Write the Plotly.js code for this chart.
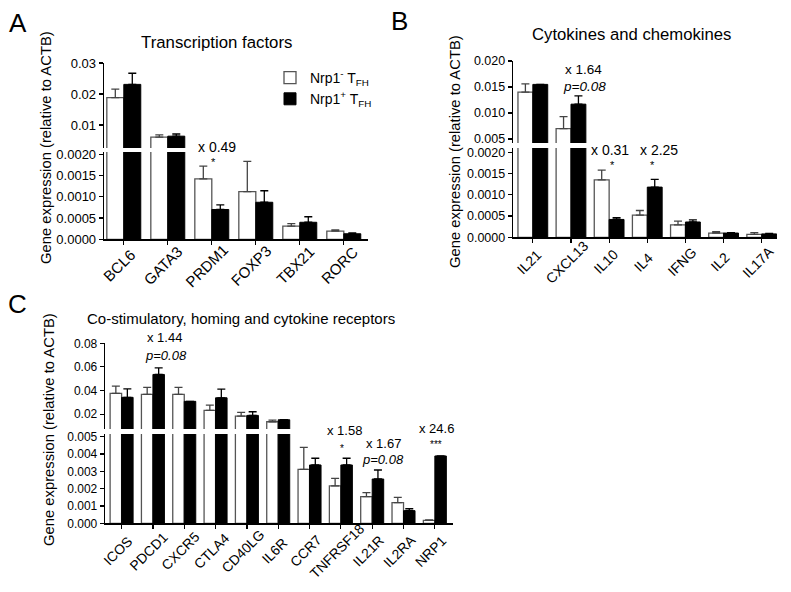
<!DOCTYPE html>
<html>
<head>
<meta charset="utf-8">
<script src="https://cdn.plot.ly/plotly-3.0.1.min.js"></script>
<style>html,body{margin:0;padding:0;background:#fff;}#chart{width:791px;height:592px;}</style>
</head>
<body>
<div id="chart"></div>
<script>
// ---------- DATA ----------
const catsA = ['BCL6','GATA3','PRDM1','FOXP3','TBX21','RORC'];
const negA = [0.0188, 0.0061, 0.00142, 0.00112, 0.00031, 0.00019];
const negSemA = [0.0028, 0.0007, 0.0003, 0.00071, 0.00006, 0.00003];
const posA = [0.0231, 0.0064, 0.0007, 0.00087, 0.0004, 0.00013];
const posSemA = [0.0036, 0.0007, 0.00011, 0.00027, 0.00013, 0.00002];

const catsB = ['IL21','CXCL13','IL10','IL4','IFNG','IL2','IL17A'];
const negB = [0.0140, 0.0070, 0.00135, 0.00052, 0.00029, 0.0001, 0.00007];
const negSemB = [0.0016, 0.0023, 0.00023, 0.00011, 0.00009, 0.00003, 0.00004];
const posB = [0.0155, 0.0117, 0.00042, 0.00118, 0.00036, 0.0001, 0.00008];
const posSemB = [0, 0.0016, 0.00004, 0.00018, 0.00005, 0.00001, 0.00001];

const catsC = ['ICOS','PDCD1','CXCR5','CTLA4','CD40LG','IL6R','CCR7','TNFRSF18','IL21R','IL2RA','NRP1'];
const negC = [0.0375, 0.0367, 0.0367, 0.0231, 0.0183, 0.0135, 0.00312, 0.00216, 0.00154, 0.00119, 0.00017];
const negSemC = [0.0062, 0.0059, 0.0059, 0.0045, 0.0031, 0.0014, 0.00127, 0.00044, 0.00023, 0.00031, 0.00003];
const posC = [0.0342, 0.0536, 0.0308, 0.0338, 0.0189, 0.0152, 0.00337, 0.00337, 0.00256, 0.00073, 0.00389];
const posSemC = [0.0072, 0.0056, 0, 0.0074, 0.0031, 0, 0.00039, 0.00039, 0.00052, 0.00011, 0];

const seriesNames = ['Nrp1<sup>-</sup> T<sub>FH</sub>', 'Nrp1<sup>+</sup> T<sub>FH</sub>'];
const yTitle = 'Gene expression (relative to ACTB)';
const panelTitles = ['Transcription factors', 'Cytokines and chemokines', 'Co-stimulatory, homing and cytokine receptors'];
const panelLetters = ['A', 'B', 'C'];

// ---------- HELPERS ----------
const W = 791, H = 592;
const fx = px => px / W;
const fy = py => 1 - py / H;
const FONT = 'Arial, "Liberation Sans", sans-serif';

function pair(cats, neg, negSem, pos, posSem, xa, ya, w, showLegend) {
  const zeros = cats.map(() => 0);
  return [
    {type:'bar', x:cats, y:neg, xaxis:xa, yaxis:ya, width:w, offset:-w,
     name:seriesNames[0], showlegend:showLegend, hoverinfo:'skip', legendgroup:'neg',
     marker:{color:'#ffffff', line:{color:'#555555', width:1.3}},
     error_y:{type:'data', symmetric:false, array:negSem, arrayminus:zeros, color:'#444444', thickness:1.3, width:4}},
    {type:'bar', x:cats, y:pos, xaxis:xa, yaxis:ya, width:w, offset:0,
     name:seriesNames[1], showlegend:showLegend, hoverinfo:'skip', legendgroup:'pos',
     marker:{color:'#000000', line:{color:'#000000', width:1}},
     error_y:{type:'data', symmetric:false, array:posSem, arrayminus:zeros, color:'#000000', thickness:1.3, width:4}}
  ];
}

const traces = [].concat(
  pair(catsA, negA, negSemA, posA, posSemA, 'x', 'y', 0.386, false),
  pair(catsA, negA, negSemA, posA, posSemA, 'x', 'y2', 0.386, true),
  pair(catsB, negB, negSemB, posB, posSemB, 'x2', 'y3', 0.39, false),
  pair(catsB, negB, negSemB, posB, posSemB, 'x2', 'y4', 0.39, false),
  pair(catsC, negC, negSemC, posC, posSemC, 'x3', 'y5', 0.367, false),
  pair(catsC, negC, negSemC, posC, posSemC, 'x3', 'y6', 0.367, false)
);

const axBase = {showline:true, linecolor:'#000', linewidth:1.3, ticks:'outside', ticklen:4, tickwidth:1.2,
  tickcolor:'#000', showgrid:false, zeroline:false, fixedrange:true};
function xAx(d0, d1, r0, r1, anchor) {
  return Object.assign({}, axBase, {domain:[fx(d0), fx(d1)], range:[r0, r1], anchor:anchor, type:'category',
    showticklabels:false});
}
function yAx(top, bot, r0, r1, anchor, tickvals, fmt, fs) {
  return Object.assign({}, axBase, {domain:[fy(bot), fy(top)], range:[r0, r1], anchor:anchor,
    tickvals:tickvals, tickformat:fmt, tickfont:{size:fs, family:FONT, color:'#000'}});
}

function ann(text, x, y, opts) {
  return Object.assign({text:text, x:x, y:y, xref:'paper', yref:'paper', showarrow:false,
    xanchor:'center', yanchor:'middle', font:{family:FONT, size:13, color:'#000'}}, opts || {});
}
function dataAnn(text, xref, cat, py, fs, xshift) {
  return {text:text, x:cat, y:fy(py), xref:xref, yref:'paper', showarrow:false, xanchor:'center', yanchor:'middle',
    xshift:xshift || 0, font:{family:FONT, size:fs, color:'#000'}};
}
// category labels, rotated 45 degrees and centred below each tick (GraphPad style)
function catLabels(cats, xref, centerY, fs, dx) {
  return cats.map(c => ({text:c, x:c, y:fy(centerY), xref:xref, yref:'paper', showarrow:false,
    xanchor:'center', yanchor:'middle', textangle:-45, xshift:dx, font:{family:FONT, size:fs, color:'#000'}}));
}

const annotations = [
  ann(panelLetters[0], fx(18), fy(23), {font:{family:FONT, size:26, color:'#000'}}),
  ann(panelLetters[1], fx(399), fy(21), {font:{family:FONT, size:26, color:'#000'}}),
  ann(panelLetters[2], fx(17), fy(304), {font:{family:FONT, size:26, color:'#000'}}),
  ann(panelTitles[0], fx(216), fy(42), {font:{family:FONT, size:16.8, color:'#000'}}),
  ann(panelTitles[1], fx(631), fy(35), {font:{family:FONT, size:16.7, color:'#000'}}),
  ann(panelTitles[2], fx(241), fy(318), {font:{family:FONT, size:15, color:'#000'}}),
  ann(yTitle, fx(46), fy(148), {textangle:-90, font:{family:FONT, size:14.8, color:'#000'}}),
  ann(yTitle, fx(455), fy(152), {textangle:-90, font:{family:FONT, size:14.8, color:'#000'}}),
  ann(yTitle, fx(49), fy(430), {textangle:-90, font:{family:FONT, size:14.8, color:'#000'}}),
  // Panel A stats
  dataAnn('x 0.49', 'x', 'PRDM1', 147, 14, 5),
  dataAnn('*', 'x', 'PRDM1', 162, 11, 2),
  // Panel B stats
  dataAnn('x 1.64', 'x2', 'CXCL13', 70, 13.5, 13),
  dataAnn('<i>p=0.08</i>', 'x2', 'CXCL13', 86, 13.5, 14),
  dataAnn('x 0.31', 'x2', 'IL10', 150, 14, 1),
  dataAnn('*', 'x2', 'IL10', 165, 11, 3),
  dataAnn('x 2.25', 'x2', 'IL4', 150, 14, 12),
  dataAnn('*', 'x2', 'IL4', 165, 11, 5),
  // Panel C stats
  dataAnn('x 1.44', 'x3', 'PDCD1', 337, 13, 12),
  dataAnn('<i>p=0.08</i>', 'x3', 'PDCD1', 355, 13, 13),
  dataAnn('x 1.58', 'x3', 'TNFRSF18', 430, 13, 4),
  dataAnn('*', 'x3', 'TNFRSF18', 448, 10, 1),
  dataAnn('x 1.67', 'x3', 'IL21R', 443, 13, 11),
  dataAnn('<i>p=0.08</i>', 'x3', 'IL21R', 460, 13, 11),
  dataAnn('x 24.6', 'x3', 'NRP1', 428, 13, 2),
  dataAnn('***', 'x3', 'NRP1', 444, 10, 1)
].concat(
  catLabels(catsA, 'x', 265, 15, -5),
  catLabels(catsB, 'x2', 261.5, 14, -4),
  catLabels(catsC, 'x3', 551, 13.8, -4)
);

const layout = {
  width:W, height:H, margin:{l:0, r:0, t:0, b:0}, paper_bgcolor:'#fff', plot_bgcolor:'rgba(0,0,0,0)',
  font:{family:FONT, color:'#000'}, barmode:'overlay', showlegend:true,
  legend:{x:fx(270), y:fy(62), xanchor:'left', yanchor:'top', font:{family:FONT, size:14, color:'#000'},
          bgcolor:'rgba(0,0,0,0)', traceorder:'normal', tracegroupgap:0},
  xaxis: xAx(104, 368, -0.45, 5.55, 'y2'),
  yaxis: yAx(63, 148, 0.00258, 0.03, 'x', [0.01, 0.02, 0.03], '.2f', 13),
  yaxis2: yAx(152, 239.3, 0, 0.00205, 'x', [0, 0.0005, 0.001, 0.0015, 0.002], '.4f', 13),
  xaxis2: xAx(513, 777, -0.52, 6.4, 'y4'),
  yaxis3: yAx(61, 143, 0.00423, 0.020, 'x2', [0.005, 0.010, 0.015, 0.020], '.3f', 12.5),
  yaxis4: yAx(148, 237.3, 0, 0.0021, 'x2', [0, 0.0005, 0.001, 0.0015, 0.002], '.4f', 12.5),
  xaxis3: xAx(105, 452.7, -0.53, 10.57, 'y6'),
  yaxis5: yAx(343.3, 429, 0.00737, 0.08, 'x3', [0.02, 0.04, 0.06, 0.08], '.2f', 12),
  yaxis6: yAx(434, 523.3, 0, 0.00516, 'x3', [0, 0.001, 0.002, 0.003, 0.004, 0.005], '.3f', 12),
  annotations: annotations
};

Plotly.newPlot('chart', traces, layout, {staticPlot:true, displayModeBar:false});
</script>
</body>
</html>
